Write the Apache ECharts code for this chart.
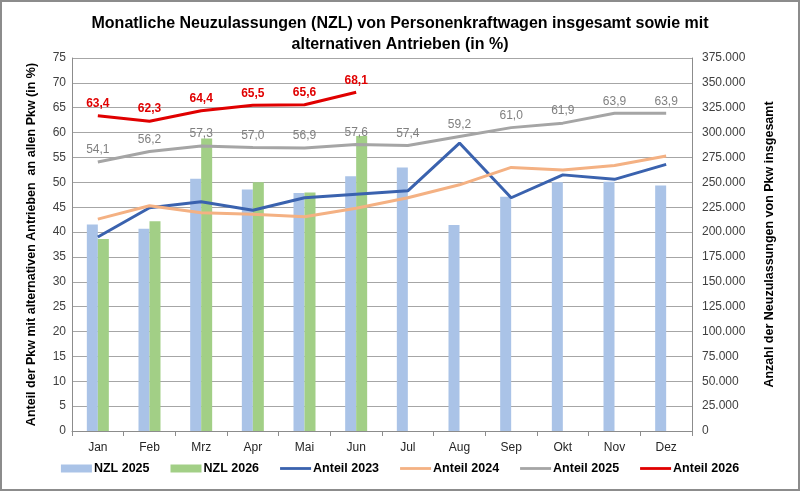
<!DOCTYPE html>
<html>
<head>
<meta charset="utf-8">
<script src="https://cdn.jsdelivr.net/npm/echarts@6/dist/echarts.min.js"></script>
<style>
  html, body { margin: 0; padding: 0; background: #fff; }
  #chart { width: 800px; height: 491px; }
</style>
</head>
<body>
<div id="chart"></div>
<script>
const months = ['Jan', 'Feb', 'Mrz', 'Apr', 'Mai', 'Jun', 'Jul', 'Aug', 'Sep', 'Okt', 'Nov', 'Dez']

// Neuzulassungen insgesamt (rechte Achse)
const nzl2025 = [207600, 203400, 253500, 242700, 239300, 256200, 264800, 207200, 235500, 250100, 250700, 246700]
const nzl2026 = [193000, 211000, 294000, 250000, 239700, 296700, null, null, null, null, null, null]

// Anteil alternative Antriebe in % (linke Achse)
const anteil2023 = [39.0, 44.9, 46.1, 44.4, 46.9, 47.6, 48.3, 57.9, 46.9, 51.5, 50.6, 53.6]
const anteil2024 = [42.6, 45.3, 43.9, 43.6, 43.1, 44.8, 46.9, 49.5, 53.0, 52.5, 53.4, 55.3]
const anteil2025 = [54.1, 56.2, 57.3, 57.0, 56.9, 57.6, 57.4, 59.2, 61.0, 61.9, 63.9, 63.9]
const anteil2026 = [63.4, 62.3, 64.4, 65.5, 65.6, 68.1, null, null, null, null, null, null]

const font = 'Liberation Sans, Arial, sans-serif'
const fmtDe = v => String(v).replace(/\B(?=(\d{3})+(?!\d))/g, '.')
const fmtPct = p => p.value == null ? '' : p.value.toFixed(1).replace('.', ',')
// flat line icon for the legend (invisible points stretch the box to full height)
const lineIcon = 'path://M0,0L0,0M0,8L0,8M0,2.6L31,2.6L31,5.4L0,5.4Z'

const chart = echarts.init(document.getElementById('chart'))

const lineSeries = (name, data, color, label) => ({
  name, type: 'line', data,
  symbol: 'circle', symbolSize: 0, showSymbol: true,
  lineStyle: { color, width: 3 }, itemStyle: { color },
  label: label || { show: false }
})

const option = {
  animation: false,
  textStyle: { fontFamily: font },
  title: {
    text: 'Monatliche Neuzulassungen (NZL) von Personenkraftwagen insgesamt sowie mit\nalternativen Antrieben (in %)',
    left: 'center',
    top: 8,
    textStyle: { fontSize: 16, fontWeight: 'bold', color: '#000', lineHeight: 21, fontFamily: font }
  },
  graphic: [{
    type: 'rect',
    shape: { x: 1, y: 1, width: 798, height: 489 },
    style: { fill: 'none', stroke: '#8c8c8c', lineWidth: 2 },
    silent: true
  }],
  legend: {
    bottom: 11,
    left: 'center',
    itemGap: 21,
    itemWidth: 31,
    itemHeight: 8,
    textStyle: { fontSize: 12.5, fontWeight: 'bold', color: '#000', fontFamily: font, padding: [0, 0, 0, -3] },
    data: [
      { name: 'NZL 2025', icon: 'rect' },
      { name: 'NZL 2026', icon: 'rect' },
      { name: 'Anteil 2023', icon: lineIcon },
      { name: 'Anteil 2024', icon: lineIcon },
      { name: 'Anteil 2025', icon: lineIcon },
      { name: 'Anteil 2026', icon: lineIcon }
    ]
  },
  grid: { left: 72, right: 108, top: 58, bottom: 60 },
  xAxis: {
    type: 'category',
    data: months,
    axisLine: { lineStyle: { color: '#8c8c8c' } },
    axisTick: { show: true, length: 5, lineStyle: { color: '#8c8c8c' } },
    axisLabel: { color: '#262626', fontSize: 12, margin: 11 }
  },
  yAxis: [
    {
      type: 'value',
      min: 0, max: 75, interval: 5,
      name: 'Anteil der Pkw mit alternativen Antrieben  an allen Pkw (in %)',
      nameLocation: 'middle',
      nameRotate: 90,
      nameGap: 34,
      nameTextStyle: { fontSize: 12.5, fontWeight: 'bold', color: '#000' },
      axisLine: { show: true, lineStyle: { color: '#8c8c8c' } },
      axisTick: { show: false },
      axisLabel: { color: '#404040', fontSize: 12, margin: 6 },
      splitLine: { lineStyle: { color: '#a6a6a6', width: 1 } }
    },
    {
      type: 'value',
      min: 0, max: 375000, interval: 25000,
      name: 'Anzahl der Neuzulassungen von Pkw insgesamt',
      nameLocation: 'middle',
      nameRotate: 90,
      nameGap: 71,
      nameTextStyle: { fontSize: 12.5, fontWeight: 'bold', color: '#000' },
      axisLine: { show: true, lineStyle: { color: '#8c8c8c' } },
      axisTick: { show: false },
      axisLabel: { color: '#404040', fontSize: 12, margin: 10, formatter: fmtDe },
      splitLine: { show: false }
    }
  ],
  series: [
    {
      name: 'NZL 2025', type: 'bar', yAxisIndex: 1, data: nzl2025,
      barWidth: 11, barGap: '0%',
      itemStyle: { color: '#aac3e7' }
    },
    {
      name: 'NZL 2026', type: 'bar', yAxisIndex: 1, data: nzl2026,
      barWidth: 11, barGap: '0%',
      itemStyle: { color: '#a2cf86' }
    },
    lineSeries('Anteil 2023', anteil2023, '#3a62ae'),
    lineSeries('Anteil 2024', anteil2024, '#f4b183'),
    lineSeries('Anteil 2025', anteil2025, '#a5a5a5',
      { show: true, position: 'top', distance: 6, color: '#808080', fontSize: 12, formatter: fmtPct }),
    lineSeries('Anteil 2026', anteil2026, '#e00000',
      { show: true, position: 'top', distance: 6, color: '#e00000', fontSize: 12, fontWeight: 'bold', formatter: fmtPct })
  ]
}

chart.setOption(option)
</script>
</body>
</html>
